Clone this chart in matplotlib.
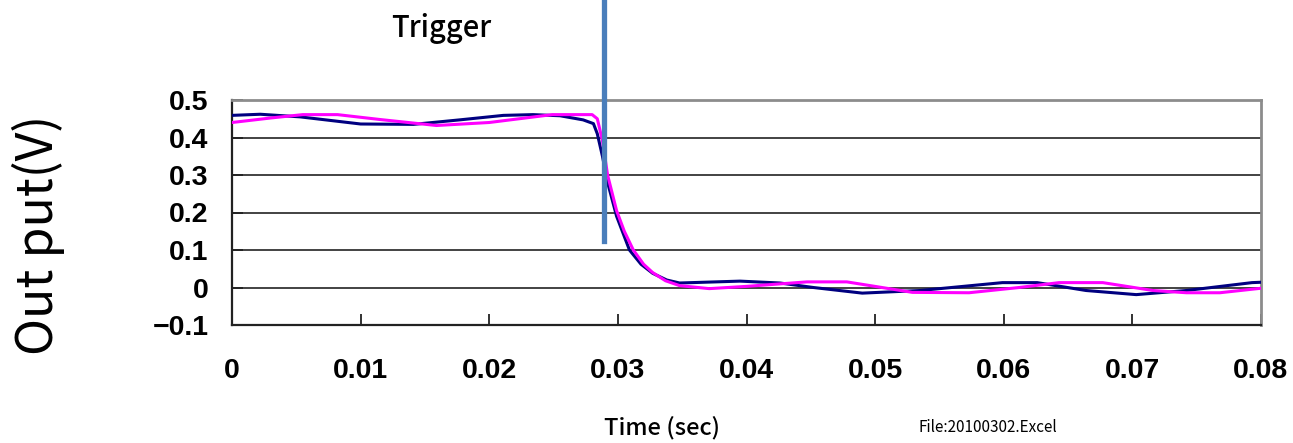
import matplotlib
matplotlib.use("Agg")
import matplotlib.pyplot as plt

# 出力波形（読み取り値）
t_navy = [0, 0.0022, 0.0053, 0.0100, 0.0141, 0.0177, 0.0211, 0.0234, 0.0255,
          0.0273, 0.0281, 0.0284, 0.0288, 0.0292, 0.0299, 0.0304, 0.0309, 0.0318,
          0.0327, 0.0338, 0.0348, 0.0395, 0.0426, 0.0452, 0.0490, 0.0535, 0.0599,
          0.0626, 0.0664, 0.0703, 0.0742, 0.0793, 0.08]
v_navy = [0.459, 0.462, 0.455, 0.436, 0.435, 0.447, 0.459, 0.461, 0.458,
          0.447, 0.437, 0.41, 0.35, 0.28, 0.19, 0.145, 0.10, 0.062,
          0.038, 0.020, 0.012, 0.017, 0.012, 0.0, -0.015, -0.008, 0.013,
          0.013, -0.008, -0.019, -0.008, 0.013, 0.014]

t_mag = [0, 0.0030, 0.0055, 0.0082, 0.0115, 0.0159, 0.0200, 0.0249, 0.0280,
         0.0284, 0.0288, 0.0292, 0.0299, 0.0305, 0.0312, 0.0320, 0.0327, 0.0337,
         0.0348, 0.0371, 0.0400, 0.0447, 0.0478, 0.0529, 0.0573, 0.0612, 0.0643,
         0.0677, 0.0716, 0.0742, 0.0768, 0.08]
v_mag = [0.440, 0.452, 0.461, 0.461, 0.448, 0.432, 0.440, 0.461, 0.461,
         0.450, 0.392, 0.300, 0.205, 0.150, 0.100, 0.062, 0.040, 0.018,
         0.005, -0.003, 0.003, 0.015, 0.015, -0.013, -0.014, 0.0, 0.013,
         0.013, -0.008, -0.014, -0.014, -0.002]

trigger_t = 0.0289
trigger_low = 0.125

x_ticks = [0, 0.01, 0.02, 0.03, 0.04, 0.05, 0.06, 0.07, 0.08]
x_labels = ['0', '0.01', '0.02', '0.03', '0.04', '0.05', '0.06', '0.07', '0.08']
y_ticks = [-0.1, 0, 0.1, 0.2, 0.3, 0.4, 0.5]
y_labels = ['\u22120.1', '0', '0.1', '0.2', '0.3', '0.4', '0.5']

fig = plt.figure(figsize=(12.93, 4.43), dpi=100)
ax = fig.add_axes([232/1293, 1-325/443, (1261-232)/1293, 225/443])

ax.set_xlim(0, 0.08)
ax.set_ylim(-0.1, 0.5)

for y in [0, 0.1, 0.2, 0.3, 0.4]:
    ax.axhline(y, color='#222222', lw=1.2, zorder=1)

ax.plot(t_navy, v_navy, color='#000080', lw=2.2, zorder=3)
ax.plot(t_mag, v_mag, color='#ff00ff', lw=2.2, zorder=4)

# トリガー線
ymin = (trigger_low - (-0.1)) / 0.6
ax.axvline(trigger_t, ymin=ymin, ymax=1.5, color='#4a7ebb', lw=3.8,
           clip_on=False, zorder=5)

ax.set_xticks(x_ticks)
ax.set_xticklabels(x_labels)
ax.set_yticks(y_ticks)
ax.set_yticklabels(y_labels)
ax.tick_params(axis='x', direction='in', length=8, width=1.3, color='#222222',
               pad=24, labelsize=20.5)
ax.tick_params(axis='y', direction='in', length=8, width=1.3, color='#222222',
               pad=17, labelsize=20.5)
for lab in ax.get_xticklabels() + ax.get_yticklabels():
    lab.set_fontweight('bold')
    lab.set_family(['Liberation Sans', 'DejaVu Sans'])

for s in ['left', 'bottom']:
    ax.spines[s].set_color('#222222')
    ax.spines[s].set_linewidth(1.6)
for s in ['top', 'right']:
    ax.spines[s].set_color('#8c8c8c')
    ax.spines[s].set_linewidth(2)

jp = ['Noto Sans CJK JP', 'DejaVu Sans']
fig.text(441/1293, 1-29/443, 'Trigger', ha='center', va='center',
         fontsize=21, fontweight='medium', family=jp)
fig.text(38/1293, 1-235/443, 'Out put(V)', ha='center', va='center',
         rotation=90, fontsize=36, family=jp)
fig.text(662/1293, 1-428/443, 'Time (sec)', ha='center', va='center',
         fontsize=17, fontweight='medium', family=jp)
fig.text(988/1293, 1-428/443, 'File:20100302.Excel', ha='center', va='center',
         fontsize=11, family=jp)

fig.savefig('out.png', dpi=100)
